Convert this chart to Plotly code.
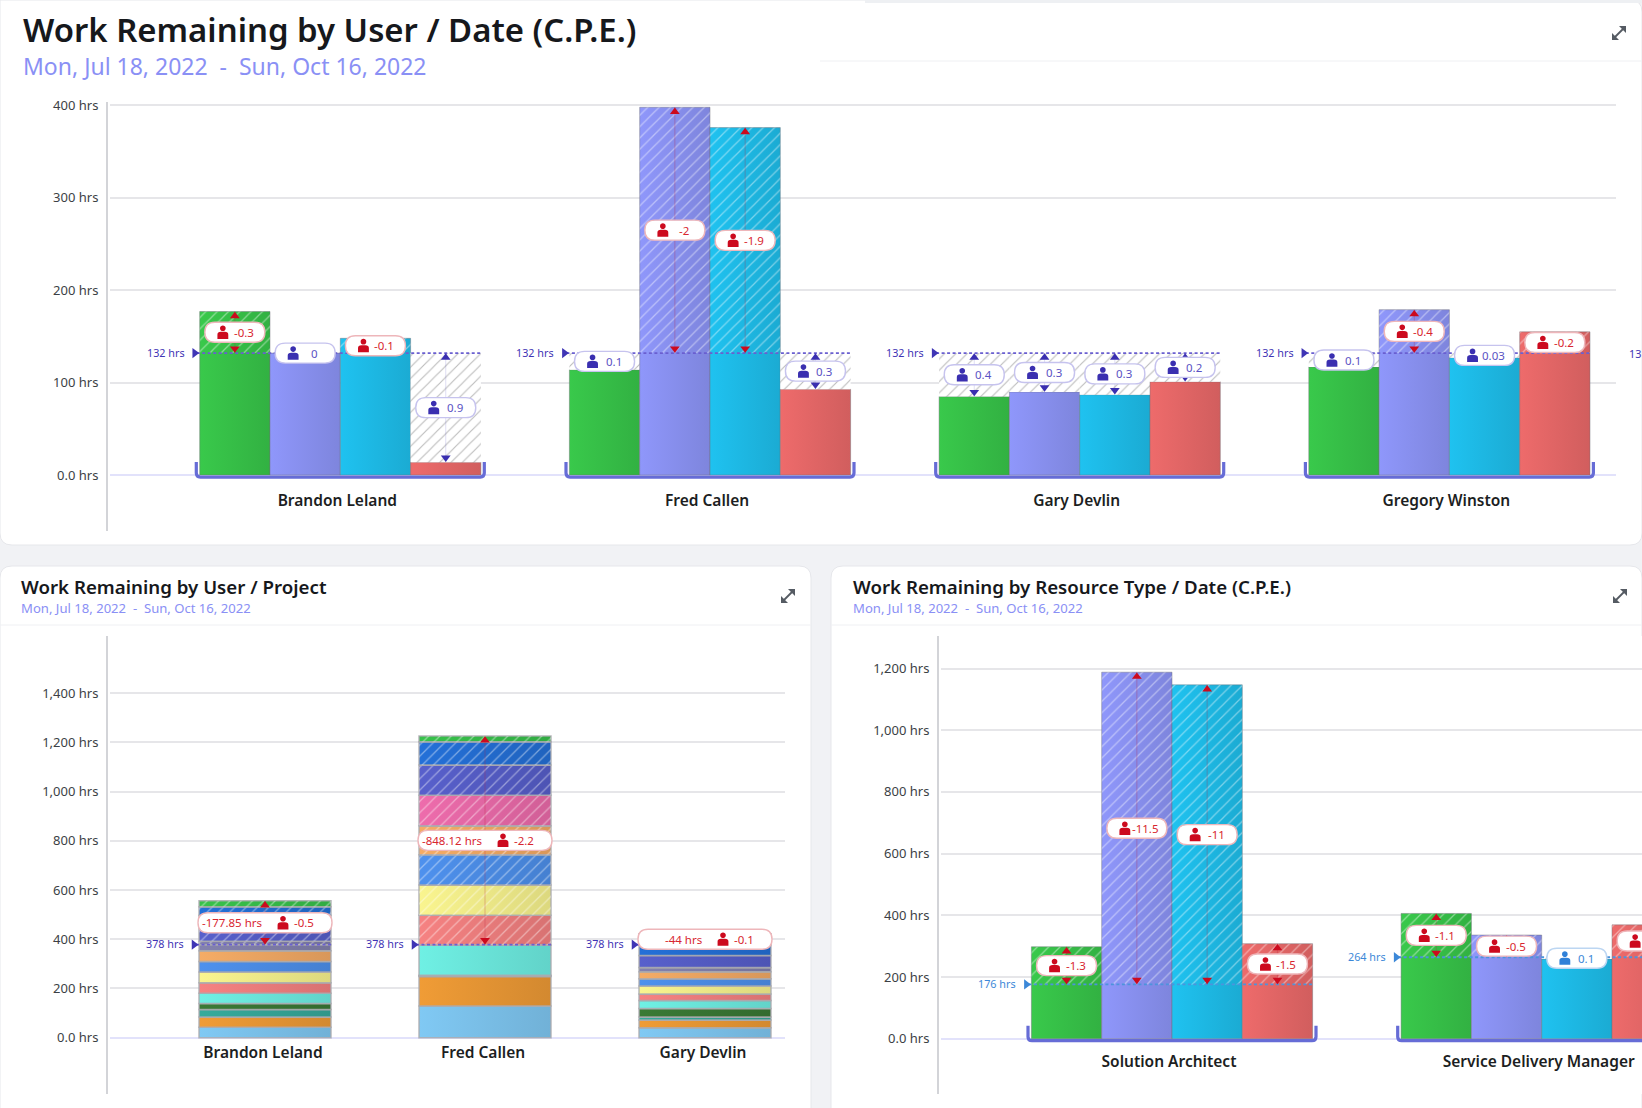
import plotly.graph_objects as go

W, H = 1642, 1108

# ---------- data ----------
users_top = ["Brandon Leland", "Fred Callen", "Gary Devlin", "Gregory Winston"]
top_caps = [132, 132, 132, 132]
top_green = [177, 114, 85, 117]
top_violet = [132, 398, 90, 179]
top_cyan = [148, 376, 87, 127]
top_red = [14, 93, 101, 155]
top_green_fte = ["-0.3", "0.1", "0.4", "0.1"]
top_violet_fte = ["0", "-2", "0.3", "-0.4"]
top_cyan_fte = ["-0.1", "-1.9", "0.3", "0.03"]
top_red_fte = ["0.9", "0.3", "0.2", "-0.2"]
top_ticks = [0, 100, 200, 300, 400]
top_ticktext = ["0.0 hrs", "100 hrs", "200 hrs", "300 hrs", "400 hrs"]

users_proj = ["Brandon Leland", "Fred Callen", "Gary Devlin"]
proj_cap = [378, 378, 378]
proj_hours_label = ["-177.85 hrs", "-848.12 hrs", "-44 hrs"]
proj_fte = ["-0.5", "-2.2", "-0.1"]
p_lightblue = [42, 129, 40]
p_orange = [42, 120, 32]
p_teal = [31, 3, 12]
p_darkgreen = [24, 2, 35]
p_turquoise = [42, 122, 32]
p_salmon = [42, 122, 27]
p_yellow = [44, 122, 32]
p_blue = [43, 123, 30]
p_lightorange = [43, 118, 28]
p_slate = [39, 0, 17]
p_pink = [0, 124, 0]
p_indigo = [106, 123, 49]
p_darkblue = [34, 95, 66]
p_green = [24, 23, 22]
proj_ticks = [0, 200, 400, 600, 800, 1000, 1200, 1400]
proj_ticktext = ["0.0 hrs", "200 hrs", "400 hrs", "600 hrs", "800 hrs", "1,000 hrs", "1,200 hrs", "1,400 hrs"]

resources = ["Solution Architect", "Service Delivery Manager"]
res_caps = [176, 264]
res_green = [298, 406]
res_violet = [1188, 336]
res_cyan = [1147, 258]
res_red = [308, 369]
res_green_fte = ["-1.3", "-1.1"]
res_violet_fte = ["-11.5", "-0.5"]
res_cyan_fte = ["-11", "0.1"]
res_red_fte = ["-1.5", ""]
res_ticks = [0, 200, 400, 600, 800, 1000, 1200]
res_ticktext = ["0.0 hrs", "200 hrs", "400 hrs", "600 hrs", "800 hrs", "1,000 hrs", "1,200 hrs"]

date_range = "Mon, Jul 18, 2022  -  Sun, Oct 16, 2022"

# ---------- styles ----------
FONT = "Noto Sans"
C_GREEN, C_VIOLET, C_CYAN, C_RED = "#39c94b", "#8f97fb", "#1fc2f0", "#ee6b6b"
C_OVER, C_UNDER, C_UNDER2 = "#cc0a1e", "#3a2fb0", "#2f80d8"
PROJ_COLORS = ["#80c9f4", "#f09c36", "#36ab9c", "#3a7a35", "#6ff0e4", "#f68282", "#faf58f",
               "#4e91ee", "#f5ac66", "#8482ae", "#ee6cac", "#5860cc", "#2470d8", "#38c24b"]

fig = go.Figure()
shapes, annotations = [], []


def px(x):
    return x / W


def py(y):
    return 1 - y / H


def paper_path(points, fill, line=None, width=0, layer="below"):
    shapes.append(dict(type="path", xref="paper", yref="paper", layer=layer, path=points,
                       fillcolor=fill, line=dict(color=line or "rgba(0,0,0,0)", width=width)))


def card(x0, y0, x1, y1, tl=12, tr=12, bl=12, br=12):
    p = f"M{px(x0+tl)},{py(y0)} L{px(x1-tr)},{py(y0)} Q{px(x1)},{py(y0)} {px(x1)},{py(y0+tr)} "
    p += f"L{px(x1)},{py(y1-br)} Q{px(x1)},{py(y1)} {px(x1-br)},{py(y1)} "
    p += f"L{px(x0+bl)},{py(y1)} Q{px(x0)},{py(y1)} {px(x0)},{py(y1-bl)} "
    p += f"L{px(x0)},{py(y0+tl)} Q{px(x0)},{py(y0)} {px(x0+tl)},{py(y0)} Z"
    paper_path(p, "#ffffff", "#e6e7eb", 1)


def divider(x0, x1, y):
    shapes.append(dict(type="line", xref="paper", yref="paper", layer="below", x0=px(x0), x1=px(x1),
                       y0=py(y), y1=py(y), line=dict(color="#eff0f3", width=1)))


def expand_icon(cx, cy):
    s = 7
    shapes.append(dict(type="line", xref="paper", yref="paper", x0=px(cx-s+2), y0=py(cy+s-2), x1=px(cx+s-2), y1=py(cy-s+2),
                       line=dict(color="#555b63", width=1.8), layer="above"))
    paper_path(f"M{px(cx+s)},{py(cy-s)} L{px(cx+s-7)},{py(cy-s)} L{px(cx+s)},{py(cy-s+7)} Z", "#555b63", layer="above")
    paper_path(f"M{px(cx-s)},{py(cy+s)} L{px(cx-s+7)},{py(cy+s)} L{px(cx-s)},{py(cy+s-7)} Z", "#555b63", layer="above")


def header(x, y_title, y_sub, title, size, sub_size):
    annotations.append(dict(xref="paper", yref="paper", x=px(x), y=py(y_title), text=title, showarrow=False,
                            xanchor="left", yanchor="middle", font=dict(family=FONT, size=size, color="#16181c", weight=600)))
    annotations.append(dict(xref="paper", yref="paper", x=px(x), y=py(y_sub), text=date_range, showarrow=False,
                            xanchor="left", yanchor="middle", font=dict(family=FONT, size=sub_size, color="#8a90f5")))


def person(xa, ya, ax, ay, dx, color, k=1.18):
    # head + shoulders, in pixels around the anchor
    h = f"M{dx-2.4*k},{3.4*k} C{dx-2.4*k},{6.6*k} {dx+2.4*k},{6.6*k} {dx+2.4*k},{3.4*k} C{dx+2.4*k},{0.2*k} {dx-2.4*k},{0.2*k} {dx-2.4*k},{3.4*k} Z "
    b = f"M{dx-4.6*k},{-5.6*k} L{dx-4.6*k},{-2*k} Q{dx-4.6*k},{0.4*k} {dx-1.6*k},{0.4*k} L{dx+1.6*k},{0.4*k} Q{dx+4.6*k},{0.4*k} {dx+4.6*k},{-2*k} L{dx+4.6*k},{-5.6*k} Z"
    shapes.append(dict(type="path", xref=ax, yref=ay, xsizemode="pixel", ysizemode="pixel", xanchor=xa, yanchor=ya,
                       path=h + b, fillcolor=color, line=dict(width=0), layer="above"))


def pill(xa, ya, ax, ay, half, color, border):
    r, hh = 10, 10
    p = (f"M{-half+r},{hh} L{half-r},{hh} Q{half},{hh} {half},0 Q{half},{-hh} {half-r},{-hh} "
         f"L{-half+r},{-hh} Q{-half},{-hh} {-half},0 Q{-half},{hh} {-half+r},{hh} Z")
    shapes.append(dict(type="path", xref=ax, yref=ay, xsizemode="pixel", ysizemode="pixel", xanchor=xa, yanchor=ya,
                       path=p, fillcolor="#ffffff", line=dict(color=border, width=1.4), layer="above"))


def label(x, y, ax, ay, text, color, xshift=0, size=11.5, anchor="center", yshift=0):
    annotations.append(dict(xref=ax, yref=ay, x=x, y=y, text=text, showarrow=False, xanchor=anchor, yanchor="middle",
                            xshift=xshift, yshift=yshift, font=dict(family=FONT, size=size, color=color)))


def make_axes(n, left, right, axis_x, top, bottom, y0px, unit, xc0, step, cats, ticks, ticktext, ticklen, shift):
    sx = "" if n == 1 else str(n)
    yr = ((y0px - bottom) / unit, (y0px - top) / unit)
    xr = ((left - xc0) / step, (right - xc0) / step)
    fig.update_layout({
        f"xaxis{sx}": dict(domain=[px(left), px(right)], range=xr, anchor="free", position=py(y0px), showgrid=False,
                           zeroline=False, showline=False, tickmode="array", tickvals=list(range(len(cats))), ticktext=cats,
                           ticks="outside", ticklen=ticklen, tickcolor="rgba(0,0,0,0)", ticklabelshift=shift,
                           tickfont=dict(family=FONT, size=15.5, color="#1c1e22", weight=600)),
        f"yaxis{sx}": dict(domain=[py(bottom), py(top)], range=yr, anchor="free", position=px(axis_x), showgrid=True,
                           gridcolor="#e6e6e9", gridwidth=2, zeroline=True, zerolinecolor="#e2e2fb", zerolinewidth=2,
                           showline=True, linecolor="#d3d4d8", linewidth=2, tickmode="array", tickvals=ticks,
                           ticktext=ticktext, ticks="outside", ticklen=5, tickcolor="rgba(0,0,0,0)",
                           tickfont=dict(family=FONT, size=13, color="#3c3f45")),
    })
    return f"x{sx}", f"y{sx}"


def bar(ax, ay, xs, base, y, width, color, pattern=None, line="rgba(110,110,120,0.45)", lw=1):
    m = dict(color=color, line=dict(color=line, width=lw))
    if pattern:
        m["pattern"] = pattern
    fig.add_trace(go.Bar(x=xs, y=y, base=base, width=width, marker=m, xaxis=ax, yaxis=ay, hoverinfo="skip", showlegend=False))


HATCH_OVER = dict(shape="/", fgcolor="rgba(255,255,255,0.42)", bgcolor="rgba(0,0,0,0)", size=8, solidity=0.16, fillmode="replace")
HATCH_UNDER = dict(shape="/", fgcolor="#bdbdbd", bgcolor="#ffffff", size=8, solidity=0.14, fillmode="replace")


def cap_decor(ax, ay, centers, half, caps, color, text_color, unit_px):
    xs, ys, mx, my = [], [], [], []
    for c, cap in zip(centers, caps):
        xs += [c - half - 3 / unit_px, c + half, None]
        ys += [cap, cap, None]
        mx.append(c - half - 5 / unit_px)
        my.append(cap)
        label(c - half, cap, ax, ay, f"{cap} hrs", text_color, xshift=-13, anchor="right", size=10.8, yshift=1)
    fig.add_trace(go.Scatter(x=xs, y=ys, mode="lines", line=dict(color=color, width=1.8, dash="3px,2.5px"),
                             xaxis=ax, yaxis=ay, hoverinfo="skip", showlegend=False))
    fig.add_trace(go.Scatter(x=mx, y=my, mode="markers", marker=dict(symbol="triangle-right", size=9, color=text_color),
                             xaxis=ax, yaxis=ay, hoverinfo="skip", showlegend=False))


def span_marks(ax, ay, items, unit, under_col):
    """items: (x, low, high, over?)"""
    for over, col, vcol in ((True, C_OVER, "rgba(190,30,60,0.28)"), (False, under_col, "rgba(80,70,190,0.18)")):
        sel = [i for i in items if i[3] == over and i[2] - i[1] > 0]
        lx, ly, ux, uy, dx, dy = [], [], [], [], [], []
        for x, lo, hi, _ in sel:
            lx += [x, x, None]
            ly += [lo, hi, None]
            ux.append(x)
            uy.append(hi - 4.5 / unit)
            dx.append(x)
            dy.append(lo + 4.5 / unit)
        fig.add_trace(go.Scatter(x=lx, y=ly, mode="lines", line=dict(color=vcol, width=1), xaxis=ax, yaxis=ay,
                                 hoverinfo="skip", showlegend=False))
        fig.add_trace(go.Scatter(x=ux, y=uy, mode="markers", marker=dict(symbol="triangle-up", size=8.5, color=col),
                                 xaxis=ax, yaxis=ay, hoverinfo="skip", showlegend=False))
        fig.add_trace(go.Scatter(x=dx, y=dy, mode="markers", marker=dict(symbol="triangle-down", size=8.5, color=col),
                                 xaxis=ax, yaxis=ay, hoverinfo="skip", showlegend=False))


def grouped(ax, ay, cats, caps, series, fte, unit, step, under_col, cap_col, cap_text, border_under):
    w = 70.3 / step
    n = len(cats)
    colors = [C_GREEN, C_VIOLET, C_CYAN, C_RED]
    items = []
    for k, (vals, col) in enumerate(zip(series, colors)):
        xs = [i + (k - 1.5) * w for i in range(n)]
        bar(ax, ay, xs, [0] * n, vals, w, col)
        bar(ax, ay, xs, caps, [max(v - c, 0) for v, c in zip(vals, caps)], w, "rgba(0,0,0,0)", HATCH_OVER, "rgba(0,0,0,0)")
        bar(ax, ay, xs, vals, [max(c - v, 0) for v, c in zip(vals, caps)], w, "#ffffff", HATCH_UNDER, "rgba(0,0,0,0)")
        for x, v, c in zip(xs, vals, caps):
            items.append((x, min(v, c), max(v, c), v > c))
    cap_decor(ax, ay, list(range(n)), 2 * w, caps, cap_col, cap_text, step)
    span_marks(ax, ay, items, unit, under_col)
    for i in range(n):
        tray = "M-144,13 L-144,2 Q-144,-2 -140,-2 L140,-2 Q144,-2 144,2 L144,13"
        shapes.append(dict(type="path", xref=ax, yref=ay, xsizemode="pixel", ysizemode="pixel", xanchor=i, yanchor=0,
                            path=tray, fillcolor="rgba(0,0,0,0)", line=dict(color="#666cd6", width=3.2), layer="above"))
    for k, (vals, texts) in enumerate(zip(series, fte)):
        for i, (v, c, t) in enumerate(zip(vals, caps, texts)):
            x, mid = i + (k - 1.5) * w, (v + c) / 2
            over = v > c
            txt_col = "#d8262f" if over else ("#5a52c4" if under_col == C_UNDER else "#3c88d8")
            pill(x, mid, ax, ay, 30, "#fff", "#eeb6ba" if over else border_under)
            person(x, mid, ax, ay, -12, C_OVER if over else under_col)
            if t:
                label(x, mid, ax, ay, t, txt_col, xshift=9)


# ---------- cards ----------
card(0, 0, W, 545, tl=0, tr=12)
card(0, 566, 811, H + 30)
card(831, 566, W, H + 30)
shapes.append(dict(type="rect", xref="paper", yref="paper", layer="below", x0=px(865), x1=1, y0=py(3), y1=1,
                   fillcolor="#eef0f3", line=dict(width=0)))
divider(820, W, 61)
divider(0, 811, 625)
divider(831, W, 625)
expand_icon(1619, 33)
expand_icon(788, 596)
expand_icon(1620, 596)
header(21, 29, 66, "Work Remaining by User / Date (C.P.E.)", 32.9, 23)
header(19, 586, 608, "Work Remaining by User / Project", 18.7, 13.1)
header(851, 586, 608, "Work Remaining by Resource Type / Date (C.P.E.)", 18.7, 13.1)

# ---------- top panel ----------
U1 = 369.7 / 400
a1, b1 = make_axes(1, 110, 1616, 107, 102, 531, 475.1, U1, 340.3, 369.7, users_top, top_ticks, top_ticktext, 11, -3)
grouped(a1, b1, users_top, top_caps, [top_green, top_violet, top_cyan, top_red],
        [top_green_fte, top_violet_fte, top_cyan_fte, top_red_fte], U1, 369.7, C_UNDER, "#6a5fd0", "#3f35b5", "#c6c3ee")
annotations.append(dict(xref="paper", yref="paper", x=px(1627), y=py(353), text="13", showarrow=False, xanchor="left",
                        yanchor="middle", font=dict(family=FONT, size=10.8, color="#3f35b5")))

# ---------- project panel ----------
U2 = 0.2461
a2, b2 = make_axes(2, 110, 785, 107, 636, 1094, 1037.7, U2, 265, 220, users_proj, proj_ticks, proj_ticktext, 1, -2)
W2 = 132 / 220
proj_series = [p_lightblue, p_orange, p_teal, p_darkgreen, p_turquoise, p_salmon, p_yellow, p_blue,
               p_lightorange, p_slate, p_pink, p_indigo, p_darkblue, p_green]
xs2 = list(range(len(users_proj)))
cum = [0] * len(users_proj)
SEG = "rgba(170,170,175,0.85)"
for vals, col in zip(proj_series, PROJ_COLORS):
    low = [min(vals[i], max(proj_cap[i] - cum[i], 0)) for i in xs2]
    high = [vals[i] - low[i] for i in xs2]
    bar(a2, b2, xs2, cum, low, W2, col, line=SEG, lw=1.5)
    mid = [cum[i] + low[i] for i in xs2]
    bar(a2, b2, xs2, mid, high, W2, col, line=SEG, lw=1.5)
    bar(a2, b2, xs2, mid, high, W2, "rgba(0,0,0,0)", HATCH_OVER, "rgba(0,0,0,0)")
    cum = [cum[i] + vals[i] for i in xs2]
cap_decor(a2, b2, xs2, W2 / 2, proj_cap, "#6a5fd0", "#3f35b5", 220)
span_marks(a2, b2, [(i, proj_cap[i], cum[i], True) for i in xs2 if cum[i] - proj_cap[i] > 100], U2, C_UNDER)
for i in xs2:
    m = (cum[i] + proj_cap[i]) / 2
    pill(i, m, a2, b2, 67, "#fff", "#eeb6ba")
    label(i, m, a2, b2, proj_hours_label[i], "#d8262f", xshift=-33 if i < 2 else -22)
    person(i, m, a2, b2, 18, C_OVER)
    label(i, m, a2, b2, proj_fte[i], "#d8262f", xshift=39)

# ---------- resource panel ----------
U3 = 0.3085
a3, b3 = make_axes(3, 941, W, 938, 636, 1094, 1038.7, U3, 1172, 369.7, resources, res_ticks, res_ticktext, 9, -3)
grouped(a3, b3, resources, res_caps, [res_green, res_violet, res_cyan, res_red],
        [res_green_fte, res_violet_fte, res_cyan_fte, res_red_fte], U3, 369.7, C_UNDER2, "#4d93dc", "#3c88d8", "#bcd6f2")
# gridlines stop short of the page edge while the bars run on
shapes.append(dict(type="rect", xref="x3", yref="y3 domain", layer="below", x0=(1617 - 1172) / 369.7, x1=(W - 1172) / 369.7,
                   y0=0, y1=1, fillcolor="#ffffff", line=dict(width=0)))

fig.update_layout(width=W, height=H, autosize=False, margin=dict(l=0, r=0, t=0, b=0, autoexpand=False), paper_bgcolor="#f1f2f5",
                  plot_bgcolor="rgba(0,0,0,0)", barmode="overlay", showlegend=False, shapes=shapes, annotations=annotations,
                  font=dict(family=FONT), dragmode=False)

post = """
document.documentElement.style.margin='0';document.body.style.margin='0';document.body.style.overflow='hidden';
var svg=document.querySelector('.main-svg');
var defs=document.createElementNS('http://www.w3.org/2000/svg','defs');svg.insertBefore(defs,svg.firstChild);
var seen={};
document.querySelectorAll('.barlayer .point path').forEach(function(p){
  var f=p.style.fill;var m=/^rgb\\((\\d+), (\\d+), (\\d+)\\)$/.exec(f);
  if(!m||f==='rgb(255, 255, 255)')return;
  var id='g'+m[1]+'_'+m[2]+'_'+m[3];
  if(!seen[id]){seen[id]=1;
    var g=document.createElementNS('http://www.w3.org/2000/svg','linearGradient');g.setAttribute('id',id);
    var a=document.createElementNS('http://www.w3.org/2000/svg','stop');a.setAttribute('offset','0');a.setAttribute('stop-color',f);
    var b=document.createElementNS('http://www.w3.org/2000/svg','stop');b.setAttribute('offset','1');
    b.setAttribute('stop-color','rgb('+Math.round(m[1]*.88)+','+Math.round(m[2]*.88)+','+Math.round(m[3]*.88)+')');
    g.appendChild(a);g.appendChild(b);defs.appendChild(g);}
  p.style.fill='url(#'+id+')';
});
"""
fig.write_html("out.html", post_script=post, config=dict(displayModeBar=False))
